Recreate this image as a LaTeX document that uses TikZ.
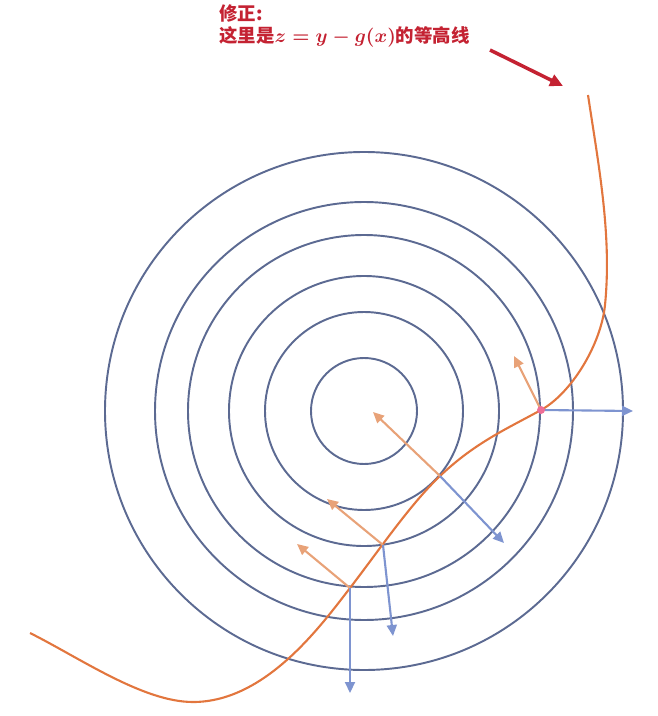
\documentclass[tikz,border=0pt]{standalone}
\usepackage{fontspec}
\newfontfamily\cjk{Noto Sans CJK SC}
\usetikzlibrary{arrows.meta,positioning}
\definecolor{ringblue}{RGB}{92,106,146}
\definecolor{curveorange}{RGB}{226,118,62}
\definecolor{gradorange}{RGB}{232,162,120}
\definecolor{normblue}{RGB}{126,148,208}
\definecolor{notered}{RGB}{196,34,50}
\definecolor{dotpink}{RGB}{238,110,150}

\begin{document}
\begin{tikzpicture}[x=0.02cm,y=-0.02cm,
    ring/.style={draw=ringblue,line width=1.1pt},
    gcurve/.style={draw=curveorange,line width=1.2pt},
    grad/.style={-{Triangle[length=2.2mm,width=2mm]},gradorange,line width=1.2pt},
    normal/.style={-{Triangle[length=2.2mm,width=2mm]},normblue,line width=1.2pt}]
  \useasboundingbox (0,0) rectangle (657,716);
  % level sets of f
  \coordinate (c) at (364,411);
  \foreach \r in {53,99,135,176,209,259} \draw[ring] (c) circle[radius=\r];
  % points on the curve
  \coordinate (q0) at (30,633);
  \coordinate (q1) at (193,702);
  \coordinate (p4) at (350,588);
  \coordinate (p3) at (383,545);
  \coordinate (p2) at (440,476);
  \coordinate (p1) at (541,410);
  \coordinate (q5) at (605,305);
  \coordinate (q6) at (588,95);
  % constraint curve
  \draw[gcurve] (q0) .. controls (80,658) and (143,702) .. (q1)
    .. controls (265,702) and (320,627) .. (p4)
    .. controls (380,549) and (410,504.5) .. (p2)
    .. controls (475,442.75) and (506,429.25) .. (p1)
    .. controls (571,393.5) and (601,345) .. (q5)
    .. controls (612,235) and (598.5,165) .. (q6);
  % arrow ends
  \coordinate (g1) at (514,356);
  \coordinate (n1) at (633,411);
  \coordinate (g2) at (373,412);
  \coordinate (n2) at (504,543);
  \coordinate (g3) at (327,499);
  \coordinate (n3) at (393,636);
  \coordinate (g4) at (297,544);
  \coordinate (n4) at (350,693);
  \foreach \i in {1,...,4}{
    \draw[grad] (p\i) -- (g\i);
    \draw[normal] (p\i) -- (n\i);
  }
  \fill[dotpink] (p1) circle[radius=4];
  % note
  \node (note) [anchor=north west,align=left,text=notered,inner sep=0pt,
    font=\cjk\bfseries\fontsize{10.5}{12.5}\selectfont] at (219,4)
    {修正:\\这里是{\boldmath$z=y-g(x)$}的等高线};
  \coordinate (hint) at (490,50);
  \coordinate (hintend) at (563,86);
  \draw[-{Triangle[length=2.6mm,width=2.4mm]},notered,line width=2pt] (hint) -- (hintend);
\end{tikzpicture}
\end{document}
